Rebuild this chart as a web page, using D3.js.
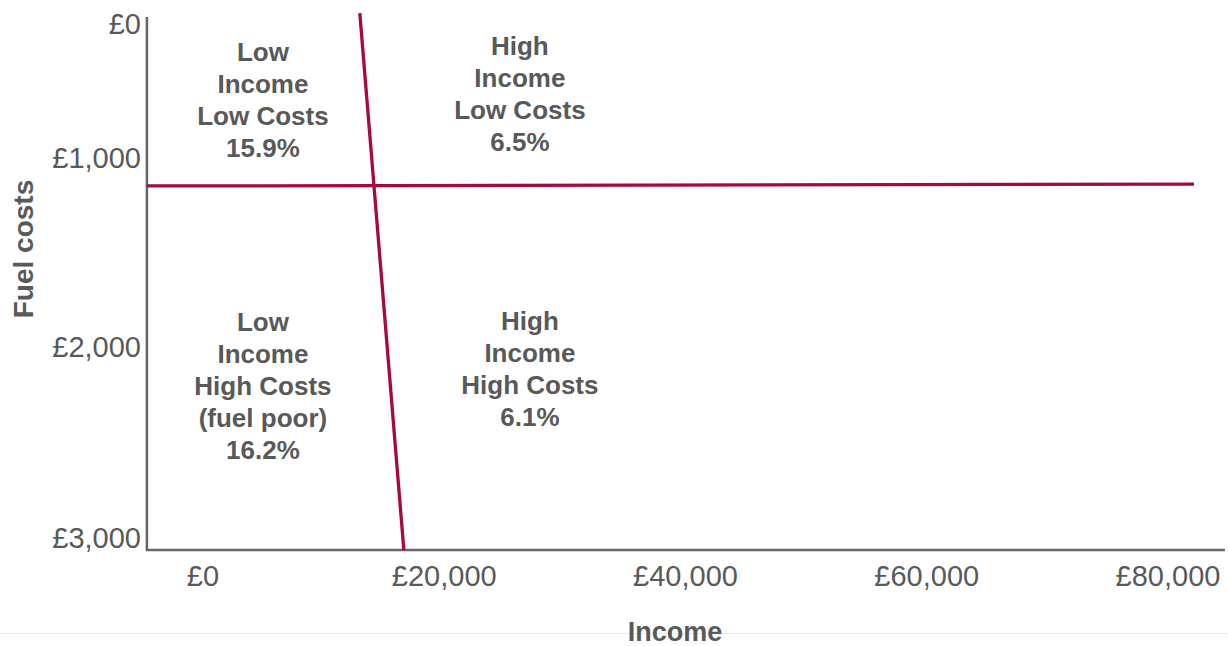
<!DOCTYPE html>
<html>
<head>
<meta charset="utf-8">
<script src="https://cdn.jsdelivr.net/npm/d3@7"></script>
<style>
  html, body { margin: 0; padding: 0; background: #fff; }
  svg { display: block; font-family: "Liberation Sans", Arial, sans-serif; }
</style>
</head>
<body>
<svg id="chart" width="1228" height="646"></svg>
<script>
// ---- data ----
const incomeTicks = [0, 20000, 40000, 60000, 80000];
const costTicks = [0, 1000, 2000, 3000];
// threshold lines (income, fuel cost) endpoints, as drawn
const incomeThreshold = [[13000, -82], [16650, 3063]];
const costThreshold = [[-4650, 1148], [82150, 1138]];
// quadrant labels: anchor (income, cost) and lines
const quadrantNames = ["lowLow", "highLow", "lowHigh", "highHigh"];
const quadrantIncome = [4970, 26270, 4970, 27100];
const quadrantCost = [570, 525, 2204, 2113];
const quadrantLines = [
  ["Low", "Income", "Low Costs", "15.9%"],
  ["High", "Income", "Low Costs", "6.5%"],
  ["Low", "Income", "High Costs", "(fuel poor)", "16.2%"],
  ["High", "Income", "High Costs", "6.1%"]
];
const xTitle = "Income";
const yTitle = "Fuel costs";

// ---- scales ----
const x = d3.scaleLinear().domain([0, 80000]).range([203, 1168]);
// axis labels in the source are unevenly spaced: piecewise linear scale
const y = d3.scaleLinear().domain(costTicks).range([24, 158, 347, 538]);

const fmt = v => "£" + d3.format(",")(v);
const svg = d3.select("#chart");
const grey = "#595959";
const red = "#a6093a";

// faint bottom rule
svg.append("line")
  .attr("x1", 0).attr("x2", 1228).attr("y1", 633.5).attr("y2", 633.5)
  .attr("stroke", "#e8e8e8").attr("stroke-width", 1);

// axis lines
const axisLeftX = x(-4650);
const axisBottomY = y(3063);
svg.append("path")
  .attr("d", d3.line()([[axisLeftX, y(-52)], [axisLeftX, axisBottomY], [x(84720), axisBottomY]]))
  .attr("fill", "none").attr("stroke", "#666").attr("stroke-width", 2.5);

// y tick labels
svg.append("g").selectAll("text").data(costTicks).join("text")
  .attr("x", 141).attr("y", d => y(d)).attr("dy", "0.35em")
  .attr("text-anchor", "end").attr("font-size", 29).attr("fill", grey)
  .text(fmt);

// x tick labels
svg.append("g").selectAll("text").data(incomeTicks).join("text")
  .attr("x", d => x(d)).attr("y", 586)
  .attr("text-anchor", "middle").attr("font-size", 29).attr("fill", grey)
  .text(fmt);

// threshold lines
const line = d3.line().x(d => x(d[0])).y(d => y(d[1]));
svg.append("path").attr("d", line(costThreshold))
  .attr("fill", "none").attr("stroke", red).attr("stroke-width", 3.3);
svg.append("path").attr("d", line(incomeThreshold))
  .attr("fill", "none").attr("stroke", red).attr("stroke-width", 3.3);

// quadrant labels
const lh = 32;
quadrantNames.forEach((name, i) => {
  const lines = quadrantLines[i];
  const cx = x(quadrantIncome[i]);
  const cy = y(quadrantCost[i]);
  const t = svg.append("text")
    .attr("text-anchor", "middle").attr("font-size", 26)
    .attr("font-weight", "bold").attr("fill", grey);
  lines.forEach((s, j) => {
    t.append("tspan").attr("x", cx)
      .attr("y", cy + (j - (lines.length - 1) / 2) * lh)
      .attr("dy", "0.35em").text(s);
  });
});

// axis titles
svg.append("text")
  .attr("x", 675).attr("y", 641)
  .attr("text-anchor", "middle").attr("font-size", 27)
  .attr("font-weight", "bold").attr("fill", grey).text(xTitle);
svg.append("text")
  .attr("transform", "translate(23,249) rotate(-90)")
  .attr("dy", "0.35em")
  .attr("text-anchor", "middle").attr("font-size", 28)
  .attr("font-weight", "bold").attr("fill", grey).text(yTitle);
</script>
</body>
</html>
